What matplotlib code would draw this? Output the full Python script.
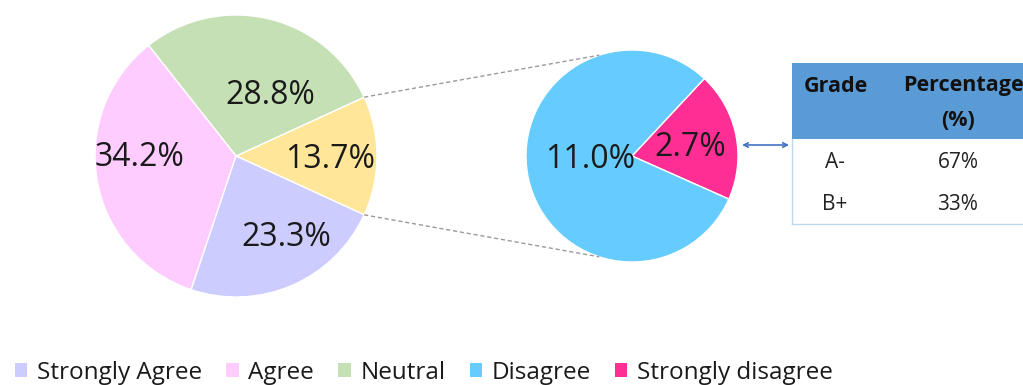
import numpy as np
import matplotlib
matplotlib.use("Agg")
import matplotlib.pyplot as plt
from matplotlib.patches import Rectangle, Patch

plt.rcParams['font.family'] = ['Open Sans', 'DejaVu Sans']

# main pie: the "other" slice holds Disagree + Strongly disagree
main_labels = ["Other", "Neutral", "Agree", "Strongly Agree"]
main_values = [13.7, 28.8, 34.2, 23.3]
main_colors = ["#FFE699", "#C5E0B4", "#FFCCFF", "#CCCCFF"]

# breakout pie
sub_labels = ["Strongly disagree", "Disagree"]
sub_values = [2.7, 11.0]
sub_colors = ["#FF2E95", "#66CCFF"]

# grade table
grades = ["A-", "B+"]
grade_pct = ["67%", "33%"]

legend_order = ["Strongly Agree", "Agree", "Neutral", "Disagree", "Strongly disagree"]

W, H = 1023, 385
fig = plt.figure(figsize=(W / 100, H / 100), dpi=100)
ax = fig.add_axes([0, 0, 1, 1])

def py(y):
    # pixel row -> data y (origin at bottom)
    return H - y

c1, r1 = (236, py(156)), 141
c2, r2 = (632, py(156)), 106

start1 = -main_values[0] * 3.6 / 2
w1, _ = ax.pie(main_values, colors=main_colors, center=c1, radius=r1,
               startangle=start1, counterclock=True,
               wedgeprops=dict(edgecolor="white", linewidth=1))
start2 = -24
w2, _ = ax.pie(sub_values, colors=sub_colors, center=c2, radius=r2,
               startangle=start2, counterclock=True,
               wedgeprops=dict(edgecolor="white", linewidth=1))

# percentage labels
main_pos = [(330, 160), (270, 96), (140, 158), (286, 237)]
for v, (x, y) in zip(main_values, main_pos):
    ax.text(x, py(y), f"{v:.1f}%", ha="center", va="center", fontsize=23, color="#1a1a1a")
sub_pos = [(690, 148), (590, 160)]
for v, (x, y) in zip(sub_values, sub_pos):
    ax.text(x, py(y), f"{v:.1f}%", ha="center", va="center", fontsize=23, color="#1a1a1a")

# dashed connectors from the "other" slice to the breakout pie
a = np.deg2rad(main_values[0] * 3.6 / 2)
b = np.deg2rad(108)
for s in (1, -1):
    p0 = (c1[0] + r1 * np.cos(a), c1[1] + s * r1 * np.sin(a))
    p1 = (c2[0] + r2 * np.cos(b), c2[1] + s * r2 * np.sin(b))
    ax.plot([p0[0], p1[0]], [p0[1], p1[1]], ls=(0, (3, 2)), color="#9a9a9a", lw=1)

# table
tx = 792
ax.add_patch(Rectangle((tx, py(139)), W - tx + 5, 76, facecolor="#5B9BD5", edgecolor="none"))
ax.plot([tx, tx], [py(139), py(224)], color="#BDD7EE", lw=1)
ax.plot([tx, W], [py(224), py(224)], color="#BDD7EE", lw=1)
hdr = dict(ha="center", va="center", fontsize=15.5, fontweight="bold", color="#111111")
ax.text(836, py(86), "Grade", **hdr)
ax.text(963, py(86), "Percentage", **hdr)
ax.text(958, py(120), "(%)", **hdr)
for i, (g, p) in enumerate(zip(grades, grade_pct)):
    yy = py(163 + 42 * i)
    ax.text(835, yy, g, ha="center", va="center", fontsize=15, color="#222222")
    ax.text(958, yy, p, ha="center", va="center", fontsize=15, color="#222222")

# double arrow between breakout pie and table
ax.annotate("", xy=(789, py(145)), xytext=(742, py(145)),
            arrowprops=dict(arrowstyle="<->", color="#4472C4", lw=1.2,
                            shrinkA=0, shrinkB=0, mutation_scale=8))

ax.set_xlim(0, W)
ax.set_ylim(0, H)
ax.set_aspect("equal")
ax.axis("off")

color_map = dict(zip(main_labels + sub_labels, main_colors + sub_colors))
handles = [Patch(facecolor=color_map[n], edgecolor="none", label=n) for n in legend_order]
leg = fig.legend(handles=handles, loc="center", bbox_to_anchor=(424 / W, 1 - 373 / H), ncol=5,
                 frameon=False, fontsize=17.5, handlelength=0.5, handleheight=0.5,
                 handletextpad=0.4, columnspacing=1.0)
for t in leg.get_texts():
    t.set_color("#1a1a1a")

fig.savefig("out.png", dpi=100)
